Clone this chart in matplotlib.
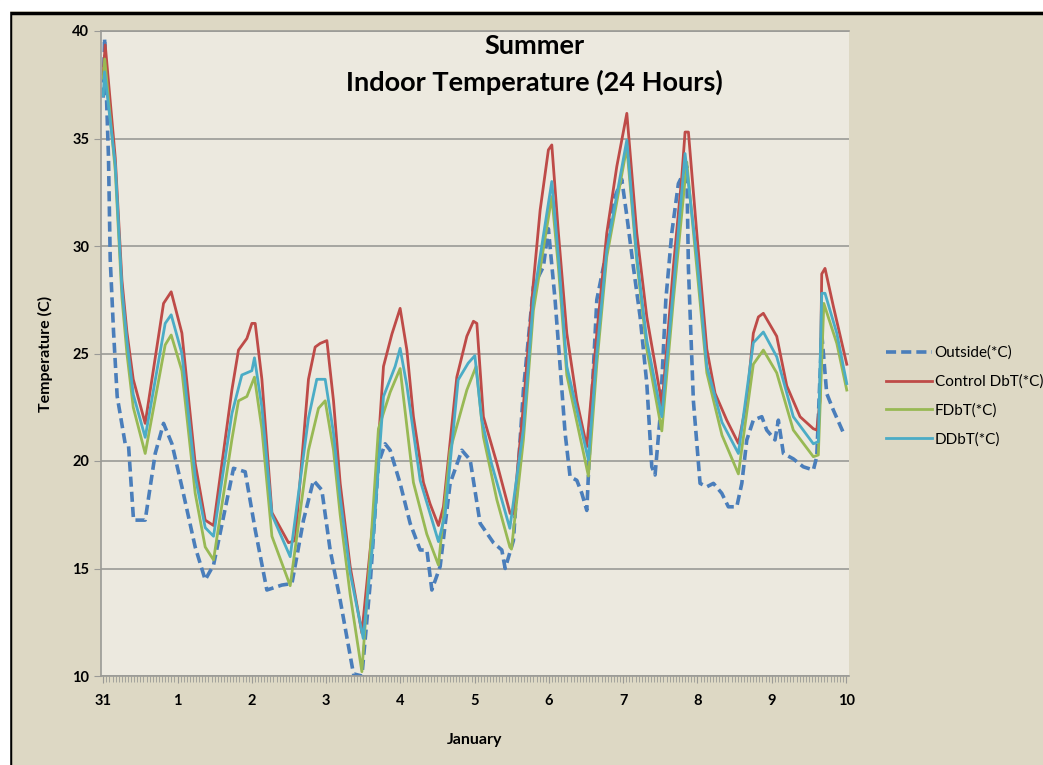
import numpy as np
import matplotlib
matplotlib.use("Agg")
import matplotlib.pyplot as plt
from matplotlib.ticker import MultipleLocator
from matplotlib.patches import Rectangle

# time in days after 31 Dec 00:00, temperatures in deg C
outside_t = [0.0, 0.018, 0.071, 0.094, 0.139, 0.188, 0.296, 0.341, 0.408, 0.565,
             0.700, 0.812, 0.925, 1.059, 1.238, 1.373, 1.485, 1.619, 1.754, 1.911,
             2.046, 2.203, 2.405, 2.540, 2.696, 2.830, 2.943, 3.055, 3.190, 3.369,
             3.482, 3.594, 3.705, 3.795, 3.863, 3.997, 4.132, 4.267, 4.357, 4.424,
             4.536, 4.670, 4.828, 4.940, 5.074, 5.253, 5.366, 5.411, 5.522, 5.657,
             5.791, 5.926, 5.993, 6.083, 6.151, 6.218, 6.285, 6.376, 6.443, 6.510,
             6.577, 6.645, 6.779, 6.868, 6.981, 7.049, 7.138, 7.228, 7.318, 7.385,
             7.429, 7.497, 7.574, 7.654, 7.743, 7.856, 7.878, 7.945, 8.035, 8.126,
             8.215, 8.327, 8.416, 8.529, 8.597, 8.664, 8.752, 8.866, 8.932, 9.044,
             9.089, 9.157, 9.290, 9.425, 9.560, 9.606, 9.673, 9.740, 9.829, 9.966]
outside = [36.9, 39.66, 34.1, 29.4, 26.0, 23.0, 20.8, 20.7, 17.25, 17.25,
           20.35, 21.75, 20.8, 18.8, 16.0, 14.47, 15.16, 17.4, 19.66, 19.5,
           16.8, 14.0, 14.23, 14.3, 17.25, 19.1, 18.65, 15.86, 13.53, 10.1,
           10.0, 14.3, 19.9, 20.8, 20.5, 18.96, 17.1, 15.86, 15.86, 14.0,
           15.1, 18.96, 20.5, 20.05, 17.1, 16.2, 15.86, 15.0, 16.3, 23.3,
           28.1, 29.04, 30.8, 27.5, 24.4, 21.3, 19.27, 19.1, 18.5, 17.7,
           22.8, 27.5, 29.8, 32.1, 33.1, 31.4, 29.0, 26.7, 23.6, 19.73,
           19.35, 22.06, 27.5, 30.6, 32.9, 33.7, 29.0, 22.8, 18.96, 18.8,
           18.96, 18.5, 17.87, 17.87, 18.96, 20.98, 21.9, 22.06, 21.44, 20.98,
           21.9, 20.35, 20.1, 19.73, 19.58, 20.2, 25.94, 23.14, 22.37, 21.3]

control_t = [0.0, 0.027, 0.162, 0.252, 0.319, 0.404, 0.565, 0.812, 0.915, 1.059,
             1.238, 1.373, 1.485, 1.732, 1.821, 1.934, 2.001, 2.046, 2.136, 2.271,
             2.494, 2.584, 2.763, 2.853, 2.921, 3.011, 3.100, 3.190, 3.324, 3.482,
             3.638, 3.773, 3.886, 3.997, 4.088, 4.176, 4.311, 4.401, 4.513, 4.580,
             4.760, 4.895, 4.984, 5.030, 5.118, 5.299, 5.478, 5.522, 5.657, 5.791,
             5.882, 5.993, 6.039, 6.128, 6.241, 6.376, 6.510, 6.645, 6.779, 6.914,
             7.049, 7.183, 7.318, 7.497, 7.520, 7.676, 7.789, 7.833, 7.878, 7.991,
             8.126, 8.237, 8.394, 8.551, 8.664, 8.752, 8.820, 8.887, 9.067, 9.202,
             9.381, 9.560, 9.606, 9.650, 9.673, 9.717, 9.829, 10.01]
control = [38.0, 39.35, 34.1, 28.4, 26.0, 23.8, 21.75, 27.33, 27.87, 25.95,
           19.9, 17.25, 17.0, 23.3, 25.16, 25.7, 26.4, 26.4, 23.8, 17.6,
           16.2, 16.3, 23.8, 25.3, 25.47, 25.6, 22.8, 18.96, 15.1, 12.0,
           17.4, 24.4, 25.9, 27.1, 25.16, 22.06, 19.0, 18.0, 17.0, 17.87,
           23.9, 25.8, 26.5, 26.4, 22.06, 19.9, 17.56, 17.56, 22.6, 28.3,
           31.67, 34.47, 34.7, 30.6, 25.94, 22.8, 20.67, 25.94, 30.6, 33.7,
           36.17, 30.6, 26.7, 23.14, 22.5, 29.04, 33.22, 35.3, 35.3, 30.6,
           25.2, 23.15, 21.9, 20.82, 22.8, 25.94, 26.7, 26.87, 25.8, 23.5,
           22.06, 21.5, 21.44, 22.8, 28.7, 28.96, 27.2, 24.5]

fdbt_t = [0.0, 0.02, 0.162, 0.252, 0.319, 0.404, 0.565, 0.834, 0.915, 1.059,
          1.238, 1.373, 1.485, 1.732, 1.821, 1.934, 2.036, 2.136, 2.271, 2.517,
          2.763, 2.898, 2.988, 3.100, 3.190, 3.324, 3.482, 3.590, 3.705, 3.863,
          3.997, 4.176, 4.356, 4.513, 4.670, 4.895, 5.020, 5.118, 5.299, 5.474,
          5.496, 5.657, 5.791, 6.039, 6.128, 6.241, 6.532, 6.645, 6.779, 7.049,
          7.183, 7.318, 7.520, 7.676, 7.856, 7.991, 8.126, 8.330, 8.551, 8.752,
          8.887, 9.067, 9.290, 9.560, 9.627, 9.701, 9.876, 10.01]
fdbt = [37.8, 38.7, 33.5, 27.6, 25.0, 22.5, 20.35, 25.4, 25.86, 24.2,
        18.5, 16.0, 15.4, 21.0, 22.8, 23.0, 23.9, 21.5, 16.5, 14.2,
        20.5, 22.45, 22.8, 20.5, 17.5, 13.8, 10.2, 15.5, 21.5, 23.2,
        24.3, 19.0, 16.6, 15.16, 20.5, 23.3, 24.4, 21.13, 18.2, 16.0,
        15.9, 21.0, 27.0, 32.3, 29.0, 24.0, 19.3, 24.5, 29.5, 34.6,
        29.3, 25.2, 21.4, 27.5, 33.9, 29.0, 24.1, 21.2, 19.4, 24.5,
        25.16, 24.1, 21.44, 20.2, 20.28, 27.33, 25.47, 23.3]

ddbt_t = [0.0, 0.018, 0.162, 0.252, 0.319, 0.404, 0.565, 0.834, 0.915, 1.059,
          1.238, 1.373, 1.485, 1.732, 1.866, 2.001, 2.036, 2.136, 2.271, 2.517,
          2.763, 2.875, 2.988, 3.100, 3.190, 3.324, 3.500, 3.638, 3.773, 3.930,
          3.997, 4.088, 4.267, 4.513, 4.603, 4.778, 4.913, 5.003, 5.092, 5.226,
          5.474, 5.657, 5.791, 6.039, 6.128, 6.241, 6.532, 6.645, 6.779, 7.049,
          7.183, 7.318, 7.520, 7.676, 7.833, 7.991, 8.126, 8.330, 8.551, 8.752,
          8.887, 9.067, 9.290, 9.560, 9.627, 9.673, 9.717, 9.876, 10.01]
ddbt = [37.0, 38.1, 33.8, 28.0, 25.6, 23.1, 21.1, 26.4, 26.8, 25.0,
        19.3, 16.9, 16.5, 22.2, 24.0, 24.2, 24.8, 22.5, 17.5, 15.55,
        22.0, 23.8, 23.8, 21.3, 18.3, 14.8, 11.75, 16.5, 23.0, 24.4,
        25.24, 23.5, 19.1, 16.25, 17.5, 23.77, 24.55, 24.9, 22.0, 19.9,
        16.87, 21.5, 27.5, 33.0, 29.5, 24.4, 20.05, 25.0, 29.8, 34.93,
        29.5, 25.6, 22.06, 28.0, 34.3, 29.5, 24.4, 21.8, 20.35, 25.5,
        26.0, 24.85, 22.06, 20.8, 20.9, 27.8, 27.8, 25.94, 23.6]

day_labels = ["31", "1", "2", "3", "4", "5", "6", "7", "8", "9", "10"]

fig = plt.figure(figsize=(10.43, 7.65), dpi=100, facecolor="#ddd8c4")
# black frame line on left and top
fig.patches.append(Rectangle((10 / 1043, -0.1), 1.2, 1.1 - 13 / 765,
                             transform=fig.transFigure, fill=False,
                             edgecolor="black", linewidth=2.5))
fig.patches.append(Rectangle((0, 1 - 10 / 765), 1, 10 / 765,
                             transform=fig.transFigure, color="white"))
fig.patches.append(Rectangle((0, 0), 9 / 1043, 1,
                             transform=fig.transFigure, color="white"))

ax = fig.add_axes([101 / 1043, 89 / 765, 748 / 1043, 645 / 765])
ax.set_facecolor("#ece9df")

ax.plot(outside_t, outside, color="#4a7ebb", lw=2.6, ls=(0, (2.8, 1.4)),
        label="Outside(*C)")
ax.plot(control_t, control, color="#be4b48", lw=2.0, label="Control DbT(*C)")
ax.plot(fdbt_t, fdbt, color="#98b954", lw=2.0, label="FDbT(*C)")
ax.plot(ddbt_t, ddbt, color="#4bacc6", lw=2.0, label="DDbT(*C)")

ax.set_xlim(-0.03, 10.04)
ax.set_ylim(10, 40)
ax.set_xticks(range(11))
ax.set_xticklabels(day_labels)
ax.xaxis.set_minor_locator(MultipleLocator(1 / 24))
ax.set_yticks(range(10, 41, 5))
ax.yaxis.grid(True, color="#9a9a96", lw=1.2)
ax.set_axisbelow(True)
ax.spines["right"].set_visible(False)
for side in ["left", "bottom", "top"]:
    ax.spines[side].set_color("#9a9a96")
    ax.spines[side].set_linewidth(1.2)
ax.tick_params(axis="x", which="major", length=5, color="#9a9a96", pad=8,
               labelsize=10.5)
ax.tick_params(axis="x", which="minor", length=4, color="#9a9a96", width=0.6)
ax.tick_params(axis="y", length=5, color="#9a9a96", labelsize=10.5)
for lab in ax.get_xticklabels() + ax.get_yticklabels():
    lab.set_fontweight("bold")
    lab.set_family("Lato")

ax.set_xlabel("January", fontsize=11.5, fontweight="bold", family="Lato", labelpad=18)
ax.set_ylabel("Temperature (C)", fontsize=11.5, fontweight="bold", family="Lato",
              labelpad=14)

ax.text(0.58, 0.977, "Summer", transform=ax.transAxes, ha="center", va="center",
        fontsize=19.5, fontweight="bold", family="Lato")
ax.text(0.58, 0.920, "Indoor Temperature (24 Hours)", transform=ax.transAxes,
        ha="center", va="center", fontsize=19.5, fontweight="bold", family="Lato")

fig.legend(loc="upper left", bbox_to_anchor=(872 / 1043, 1 - 332 / 765),
           frameon=False, prop={"family": "Lato", "size": 11},
           handlelength=3.0, handletextpad=0.2, labelspacing=0.95)

fig.savefig("out.png", dpi=100, facecolor=fig.get_facecolor())
